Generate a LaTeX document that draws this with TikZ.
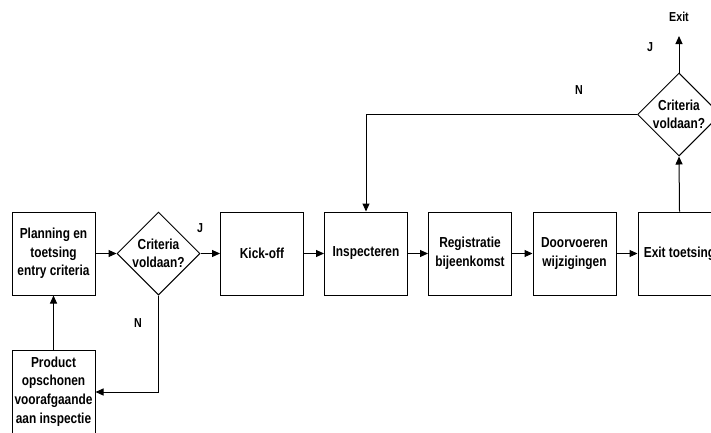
\documentclass[tikz,border=0pt]{standalone}
\usepackage{fontspec}
\setmainfont{Liberation Sans}[FakeStretch=0.82]
\usetikzlibrary{arrows.meta,shapes.geometric}
\begin{document}
\begin{tikzpicture}[x=1pt,y=-1pt,
  box/.style={draw, line width=1pt, minimum width=83pt, minimum height=83pt, inner sep=0pt,
    font=\bfseries\fontsize{14.5}{18.7}\selectfont, align=center},
  dia/.style={draw, line width=1pt, diamond, minimum width=83pt, minimum height=83pt, inner sep=0pt},
  dtxt/.style={font=\bfseries\fontsize{14.5}{18.5}\selectfont, align=center, inner sep=0pt},
  lbl/.style={font=\bfseries\fontsize{13}{15}\selectfont, inner sep=0pt},
  conn/.style={line width=1pt},
  arr/.style={conn, -{Triangle[length=8pt,width=7pt]}}]
\useasboundingbox (0,0) rectangle (711,432);
\clip (0,0) rectangle (711,432);
\fill[white] (0,0) rectangle (711,432);
% nodes
\node[box] (plan) at (53.5,253.5) {Planning en\\toetsing\\entry criteria};
\node[dia] (d1) at (158.5,253.5) {};
\node[dtxt] (d1t) at (d1) {Criteria\\voldaan?};
\node[box] (kick) at (262,253.5) {Kick-off};
\node[box] (insp) at (366,253.5) {Inspecteren};
\node[box] (reg) at (470,253.5) {Registratie\\bijeenkomst};
\node[box] (door) at (574.5,253.5) {Doorvoeren\\wijzigingen};
\node[box] (exitt) at (679.5,253.5) {Exit toetsing};
\node[dia] (d2) at (679,114.5) {};
\node[dtxt] (d2t) at (d2) {Criteria\\voldaan?};
\node[box] (prod) at (53.5,391.5) {Product\\opschonen\\voorafgaande\\aan inspectie};
\coordinate (exitend) at (679,36);
\node[lbl] (exitlbl) at (679,17) {Exit};
% labels
\node[lbl] (j1) at (200,228) {J};
\node[lbl] (n1) at (138,323) {N};
\node[lbl] (j2) at (650,47) {J};
\node[lbl] (n2) at (579,90) {N};
% connectors
\draw[arr] (plan.east) -- (d1.west);
\draw[arr] (d1.east) -- (kick.west);
\draw[arr] (kick.east) -- (insp.west);
\draw[arr] (insp.east) -- (reg.west);
\draw[arr] (reg.east) -- (door.west);
\draw[arr] (door.east) -- (exitt.west);
\draw[arr] (exitt.north) -- (d2.south);
\draw[arr] (d2.north) -- (exitend);
\draw[arr] (d2.west) -- (insp.north |- d2.west) -- (insp.north);
\draw[arr] (d1.south) -- (d1.south |- 0,392) -- (prod.east |- 0,392);
\draw[arr] (prod.north) -- (plan.south);
\end{tikzpicture}
\end{document}
